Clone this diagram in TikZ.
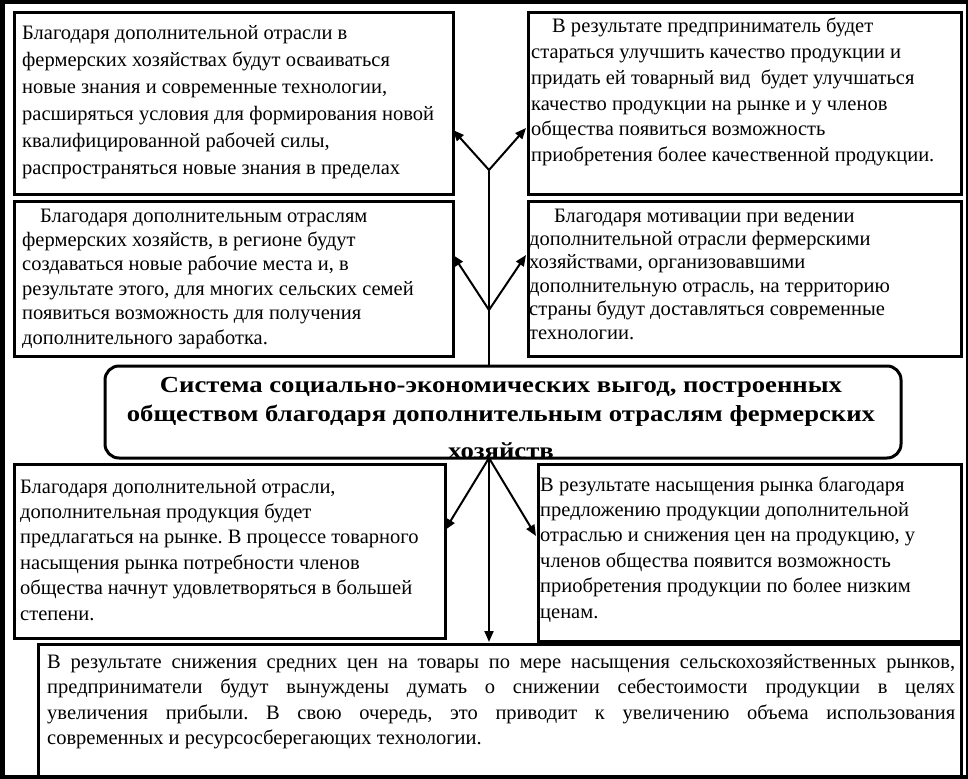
\documentclass[tikz,border=0pt]{standalone}
\usepackage{fontspec}
\usepackage{graphicx}
\setmainfont{Liberation Serif}
\usetikzlibrary{arrows.meta}
\tikzset{
  boxnode/.style={draw, line width=3bp, inner sep=0, anchor=north west, fill=white},
  conline/.style={line width=2bp},
  conarrow/.style={line width=2bp, -{Triangle[length=11bp,width=9bp]}},
  txt/.style={anchor=base west, inner sep=0, font=\fontsize{20.5bp}{26bp}\selectfont},
  frameline/.style={line width=4bp}
}
\begin{document}
\frenchspacing
\begin{tikzpicture}[x=1bp,y=-1bp]
\useasboundingbox (0,0) rectangle (968,779);
% outer frame
\draw[line width=5bp] (2.5,0) -- (2.5,779);
\draw[frameline] (0,2) -- (968,2);
\draw[line width=2bp] (967,0) -- (967,779);
\draw[frameline] (0,777) -- (968,777);

% boxes
\node[boxnode, minimum width=439bp, minimum height=182bp] (b1) at (13,11) {};
\node[boxnode, minimum width=433bp, minimum height=182bp] (b2) at (527,11) {};
\node[boxnode, minimum width=439bp, minimum height=155bp] (b3) at (13,200) {};
\node[boxnode, minimum width=433bp, minimum height=155bp] (b4) at (527,200) {};
\node[boxnode, minimum width=431bp, minimum height=174bp] (b5) at (13,463) {};
\node[boxnode, minimum width=423bp, minimum height=177bp] (b6) at (537,463) {};
\node[boxnode, minimum width=923bp, minimum height=132bp] (b7) at (37,643) {};

% texts
\node[txt] (t1) at (22,40) {\parbox[t]{430bp}{\baselineskip=26.8bp
Благодаря дополнительной отрасли в\\
фермерских хозяйствах будут осваиваться\\
новые знания и современные технологии,\\
расширяться условия для формирования новой\\
квалифицированной рабочей силы,\\
распространяться новые знания в пределах}};

\node[txt] (t2) at (531,33) {\parbox[t]{428bp}{\baselineskip=25.7bp
\hspace*{21bp}В результате предприниматель будет\\
стараться улучшить качество продукции и\\
придать ей товарный вид\ \ будет улучшаться\\
качество продукции на рынке и у членов\\
общества появиться возможность\\
приобретения более качественной продукции.}};

\node[txt] (t3) at (22,222) {\parbox[t]{430bp}{\baselineskip=24.4bp
\hspace*{18bp}Благодаря дополнительным отраслям\\
фермерских хозяйств, в регионе будут\\
создаваться новые рабочие места и, в\\
результате этого, для многих сельских семей\\
появиться возможность для получения\\
дополнительного заработка.}};

\node[txt] (t4) at (529,222) {\parbox[t]{428bp}{\baselineskip=23.4bp
\hspace*{25bp}Благодаря мотивации при ведении\\
дополнительной отрасли фермерскими\\
хозяйствами, организовавшими\\
дополнительную отрасль, на территорию\\
страны будут доставляться современные\\
технологии.}};

\node[txt] (t5) at (20,493) {\parbox[t]{425bp}{\baselineskip=25.4bp
Благодаря дополнительной отрасли,\\
дополнительная продукция будет\\
предлагаться на рынке. В процессе товарного\\
насыщения рынка потребности членов\\
общества начнут удовлетворяться в большей\\
степени.}};

\node[txt] (t6) at (540,491) {\parbox[t]{418bp}{\baselineskip=25.4bp
В результате насыщения рынка благодаря\\
предложению продукции дополнительной\\
отраслью и снижения цен на продукцию, у\\
членов общества появится возможность\\
приобретения продукции по более низким\\
ценам.}};

\node[txt] (t7) at (47,668) {\parbox[t]{908bp}{\baselineskip=25.5bp
В результате снижения средних цен на товары по мере насыщения сельскохозяйственных рынков,\linebreak
предприниматели будут вынуждены думать о снижении себестоимости продукции в целях\linebreak
увеличения прибыли. В свою очередь, это приводит к увеличению объема использования\linebreak
современных и ресурсосберегающих технологии.}};

% centre box with clipped title
\node[boxnode, draw=none, rounded corners=14bp, minimum width=793bp, minimum height=89bp] (c) at (105,366) {};
\begin{scope}
\clip[rounded corners=14bp] (c.north west) rectangle (c.south east);
\node[anchor=base, inner sep=0, font=\bfseries\fontsize{23bp}{29bp}\selectfont] (ct) at (501,392)
 {\scalebox{1.16}[1]{\parbox[t]{680bp}{\centering\baselineskip=29bp
 Система социально-экономических выгод, построенных\\
 обществом благодаря дополнительным отраслям фермерских\\[8bp]
 хозяйств}}};
\end{scope}
\draw[line width=3bp, rounded corners=14bp] (c.north west) rectangle (c.south east);

% connectors
\coordinate (j1) at (489,170);
\coordinate (j2) at (489,310);
\coordinate (a1) at (453,130);
\coordinate (a2) at (526,128);
\coordinate (a3) at (453,255);
\coordinate (a4) at (526,255);
\coordinate (a5) at (445,530);
\coordinate (a6) at (536,536);
\coordinate (a7) at (489,642);
\coordinate (j3) at (c.south -| j1);
\draw[conline] (c.north -| j1) -- (j1);
\draw[conarrow] (j1) -- (a1);
\draw[conarrow] (j1) -- (a2);
\draw[conarrow] (j2) -- (a3);
\draw[conarrow] (j2) -- (a4);
\draw[conarrow] (j3) -- (a5);
\draw[conarrow] (j3) -- (a6);
\draw[conarrow] (j3) -- (a7);
\end{tikzpicture}
\end{document}
